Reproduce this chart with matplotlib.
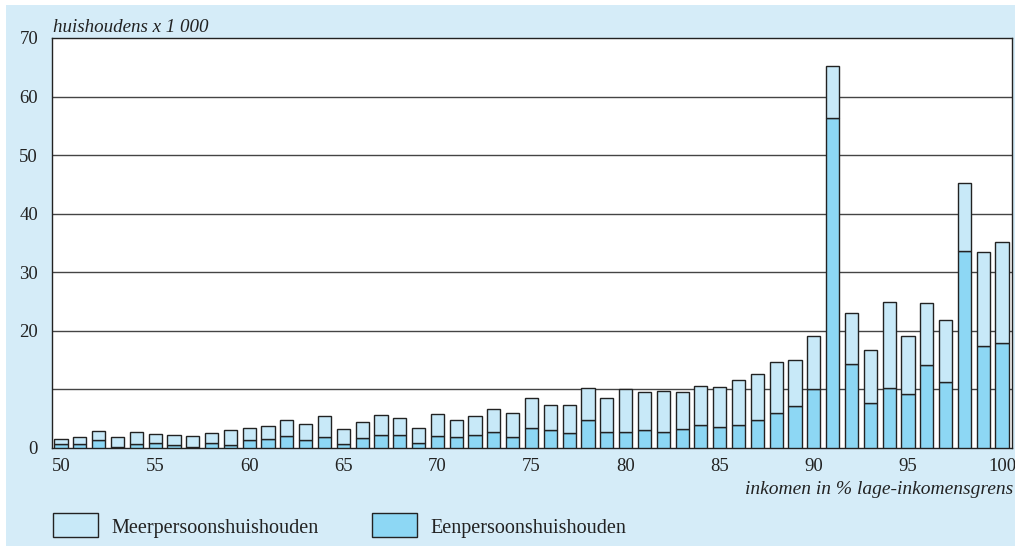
import numpy as np
import matplotlib.pyplot as plt
from matplotlib.patches import Rectangle

# inkomen in % van de lage-inkomensgrens
inkomen = list(range(50, 101))

# totaal aantal huishoudens (x 1 000), top van de gestapelde staaf
totaal = [1.6, 1.8, 2.85, 1.8, 2.8, 2.4, 2.3, 2.1, 2.6, 3.1,
          3.4, 3.8, 4.7, 4.1, 5.4, 3.2, 4.4, 5.7, 5.2, 3.5,
          5.8, 4.7, 5.5, 6.6, 5.9, 8.5, 7.4, 7.4, 10.3, 8.6,
          10.0, 9.5, 9.7, 9.5, 10.6, 10.5, 11.6, 12.6, 14.7, 15.0,
          19.2, 65.2, 23.1, 16.7, 25.0, 19.1, 24.8, 21.9, 45.2, 33.4,
          35.2]

# eenpersoonshuishoudens (x 1 000)
een = [0.7, 0.6, 1.3, 0.2, 0.75, 0.8, 0.45, 0.2, 0.85, 0.57,
       1.4, 1.6, 2.0, 1.4, 1.8, 0.6, 1.7, 2.2, 2.3, 0.85,
       2.0, 1.9, 2.3, 2.7, 1.8, 3.5, 3.1, 2.6, 4.7, 2.8,
       2.7, 3.0, 2.8, 3.2, 3.9, 3.6, 4.0, 4.8, 5.9, 7.2,
       10.1, 56.4, 14.3, 7.6, 10.3, 9.2, 14.1, 11.2, 33.7, 17.5,
       18.0]

meer = [t - e for t, e in zip(totaal, een)]

yticks = [0, 20, 30, 40, 50, 60, 70]
xticks = [50, 55, 60, 65, 70, 75, 80, 85, 90, 95, 100]

bg = '#d5ecf8'
c_meer = '#c8e9f8'
c_een = '#8dd7f4'

plt.rcParams['font.family'] = ['Liberation Serif', 'DejaVu Serif']

fig = plt.figure(figsize=(10.15, 5.46), dpi=100)
fig.patch.set_facecolor('white')
fig.patches.append(Rectangle((6 / 1015, 0), 1 - 6 / 1015, 1 - 5 / 546,
                             transform=fig.transFigure, facecolor=bg,
                             edgecolor='none', zorder=-10))

ax = fig.add_axes([52 / 1015, 98 / 546, 960 / 1015, 410 / 546])
ax.set_facecolor('white')

x = np.array(inkomen)
ax.bar(x, een, width=0.7, color=c_een, edgecolor='#222222', linewidth=1, zorder=3)
ax.bar(x, meer, bottom=een, width=0.7, color=c_meer, edgecolor='#222222',
       linewidth=1, zorder=3)

for yv in range(10, 70, 10):
    ax.axhline(yv, color='#444444', linewidth=1, zorder=1)

ax.set_xlim(49.52, 100.53)
ax.set_ylim(0, 70)
ax.set_yticks(yticks)
ax.set_xticks(xticks)
ax.tick_params(length=0, labelsize=13.5, colors='#222222')
ax.tick_params(axis='x', pad=7)
ax.tick_params(axis='y', pad=10)
for s in ax.spines.values():
    s.set_color('#222222')
    s.set_linewidth(1)

fig.text(53 / 1015, 1 - 27 / 546, 'huishoudens x 1 000', style='italic',
         fontsize=13.7, va='center', ha='left', color='#222222')
fig.text(1013 / 1015, 1 - 490 / 546, 'inkomen in % lage-inkomensgrens',
         style='italic', fontsize=14, va='center', ha='right', color='#222222')

# legenda
for x0, label, col in [(53, 'Meerpersoonshuishouden', c_meer),
                       (372, 'Eenpersoonshuishouden', c_een)]:
    fig.patches.append(Rectangle((x0 / 1015, 1 - 537 / 546), 45 / 1015, 24 / 546,
                                 transform=fig.transFigure, facecolor=col,
                                 edgecolor='#222222', linewidth=1))
    fig.text((x0 + 58) / 1015, 1 - 528 / 546, label, fontsize=14.5,
             va='center', ha='left', color='#222222')

fig.savefig('out.png', dpi=100, facecolor=fig.get_facecolor())
